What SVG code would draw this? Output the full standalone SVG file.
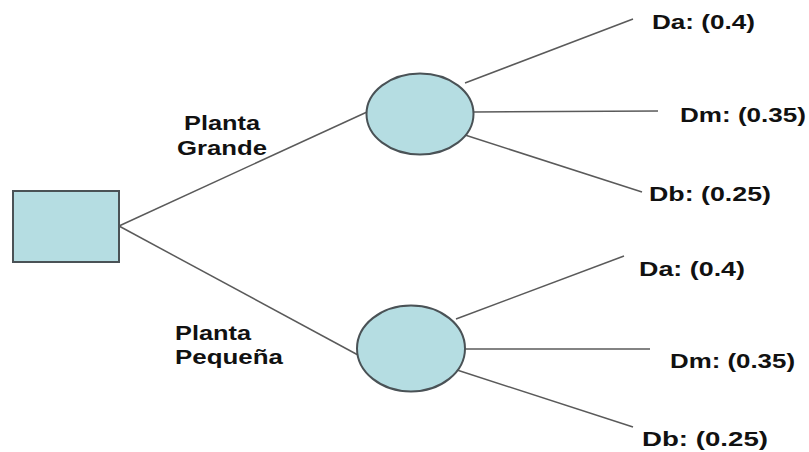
<svg xmlns="http://www.w3.org/2000/svg" width="809" height="452" viewBox="0 0 809 452">
<style>
.node{fill:#b5dde2;stroke:#4a5256;stroke-width:2}
.edge{stroke:#5a5a5a;stroke-width:1.5;fill:none}
.lbl{font-family:"Liberation Sans",Arial,sans-serif;font-weight:bold;font-size:21px;fill:#111}
</style>
<rect width="809" height="452" fill="#ffffff"/>
<g id="connectors">
<line class="edge" x1="119" y1="226" x2="367" y2="112"/>
<line class="edge" x1="119" y1="226" x2="358" y2="355"/>
<line class="edge" x1="465" y1="83" x2="633" y2="19"/>
<line class="edge" x1="474" y1="112" x2="658" y2="111"/>
<line class="edge" x1="465" y1="135" x2="642" y2="192"/>
<line class="edge" x1="456" y1="319" x2="624" y2="256"/>
<line class="edge" x1="465" y1="349" x2="650" y2="349"/>
<line class="edge" x1="457" y1="370" x2="633" y2="427"/>
</g>
<g id="decision">
<rect class="node" x="13" y="191" width="106" height="71"/>
</g>
<g id="chance-grande">
<ellipse class="node" cx="420" cy="114" rx="53.5" ry="40.5"/>
</g>
<g id="chance-pequena">
<ellipse class="node" cx="411" cy="348.5" rx="54" ry="43"/>
</g>
<g id="edge-labels">
<text class="lbl" x="184" y="130" textLength="76" lengthAdjust="spacingAndGlyphs">Planta</text>
<text class="lbl" x="177" y="155" textLength="90" lengthAdjust="spacingAndGlyphs">Grande</text>
<text class="lbl" x="175" y="340" textLength="76" lengthAdjust="spacingAndGlyphs">Planta</text>
<text class="lbl" x="175" y="364" textLength="108" lengthAdjust="spacingAndGlyphs">Pequeña</text>
</g>
<g id="outcomes">
<text class="lbl" x="652" y="29" textLength="103" lengthAdjust="spacingAndGlyphs">Da: (0.4)</text>
<text class="lbl" x="680" y="122" textLength="126" lengthAdjust="spacingAndGlyphs">Dm: (0.35)</text>
<text class="lbl" x="649" y="201" textLength="122" lengthAdjust="spacingAndGlyphs">Db: (0.25)</text>
<text class="lbl" x="639" y="276" textLength="106" lengthAdjust="spacingAndGlyphs">Da: (0.4)</text>
<text class="lbl" x="670" y="368" textLength="125" lengthAdjust="spacingAndGlyphs">Dm: (0.35)</text>
<text class="lbl" x="642" y="446" textLength="126" lengthAdjust="spacingAndGlyphs">Db: (0.25)</text>
</g>
</svg>
